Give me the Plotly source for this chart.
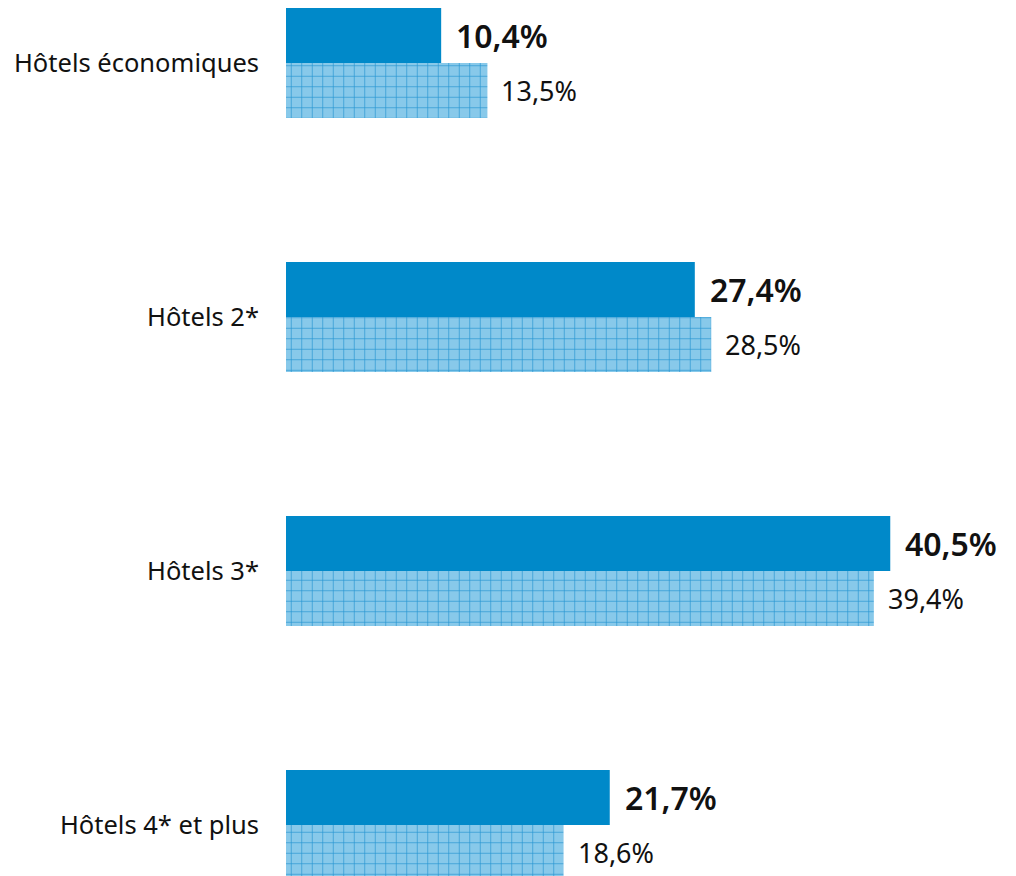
import plotly.graph_objects as go

categories = ["Hôtels économiques", "Hôtels 2*", "Hôtels 3*", "Hôtels 4* et plus"]
series_a = [10.4, 27.4, 40.5, 21.7]
series_b = [13.5, 28.5, 39.4, 18.6]
labels_a = ["10,4%", "27,4%", "40,5%", "21,7%"]
labels_b = ["13,5%", "28,5%", "39,4%", "18,6%"]

ypos = list(range(len(categories)))
FONT = "Noto Sans"

fig = go.Figure()
fig.add_trace(go.Bar(
    y=ypos, x=series_a, orientation="h",
    marker=dict(color="#0089c9", line=dict(width=0)),
    showlegend=False, hoverinfo="skip",
))
fig.add_trace(go.Bar(
    y=ypos, x=series_b, orientation="h",
    marker=dict(
        color="#86c8ea", line=dict(width=0),
        pattern=dict(shape="+", size=10.5, solidity=0.12,
                     fgcolor="#2493d2", bgcolor="#88c9ea", fillmode="replace"),
    ),
    showlegend=False, hoverinfo="skip",
))

off = 0.2165 / 2
annotations = []
for i in ypos:
    annotations.append(dict(
        x=series_a[i], y=i - off, xref="x", yref="y", text=labels_a[i],
        showarrow=False, xanchor="left", yanchor="middle", xshift=13,
        font=dict(family=FONT, size=32, color="#111111", weight=600),
    ))
    annotations.append(dict(
        x=series_b[i], y=i + off, xref="x", yref="y", text=labels_b[i],
        showarrow=False, xanchor="left", yanchor="middle", xshift=12,
        font=dict(family=FONT, size=27, color="#111111"),
    ))

fig.update_layout(
    width=1016, height=876,
    margin=dict(l=278, r=0, t=0, b=0, autoexpand=False),
    paper_bgcolor="white", plot_bgcolor="white",
    barmode="group", bargap=0.567, bargroupgap=0,
    annotations=annotations,
    xaxis=dict(range=[0, 738 / 14.92], visible=False, fixedrange=True),
    yaxis=dict(
        range=[(876 - 55) / 254, -55 / 254],
        tickvals=ypos, ticktext=categories,
        showgrid=False, zeroline=False, showline=False, ticks="",
        ticklabelstandoff=26,
        tickfont=dict(family=FONT, size=25.5, color="#111111"),
        fixedrange=True,
    ),
)

fig.write_html("out.html")
